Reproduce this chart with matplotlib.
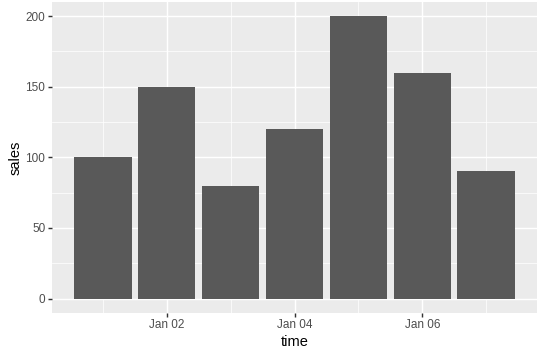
import matplotlib
matplotlib.use("Agg")
import matplotlib.pyplot as plt
import matplotlib.dates as mdates
import numpy as np
import pandas as pd

dates = pd.to_datetime(["2020-01-01", "2020-01-02", "2020-01-03", "2020-01-04",
                        "2020-01-05", "2020-01-06", "2020-01-07"])
sales = [100, 150, 80, 120, 200, 160, 90]
major_dates = pd.to_datetime(["2020-01-02", "2020-01-04", "2020-01-06"])
minor_dates = pd.to_datetime(["2020-01-01", "2020-01-03", "2020-01-05", "2020-01-07"])
major_labels = ["Jan 02", "Jan 04", "Jan 06"]
y_major = [0, 50, 100, 150, 200]
y_minor = [25, 75, 125, 175]

plt.rcParams['font.family'] = ['Liberation Sans', 'DejaVu Sans']

W, H = 542, 358
dpi = 96
fig = plt.figure(figsize=(W / dpi, H / dpi), dpi=dpi)
left, right, top, bottom = 52, 537, 2, 312.7
ax = fig.add_axes([left / W, (H - bottom) / H, (right - left) / W, (bottom - top) / H])
ax.set_facecolor("#EBEBEB")

xnum = mdates.date2num(dates)
ax.bar(xnum, sales, width=0.9, color="#595959", zorder=3)

xmin = xnum[0] - 0.45 - 0.05 * 6.9
xmax = xnum[-1] + 0.45 + 0.05 * 6.9
ax.set_xlim(xmin, xmax)
ax.set_ylim(-10, 210)

for v in mdates.date2num(minor_dates):
    ax.axvline(v, color="white", lw=0.53, zorder=1)
for v in mdates.date2num(major_dates):
    ax.axvline(v, color="white", lw=1.07, zorder=1)
for v in y_minor:
    ax.axhline(v, color="white", lw=0.53, zorder=1)
for v in y_major:
    ax.axhline(v, color="white", lw=1.07, zorder=1)

ax.set_xticks(mdates.date2num(major_dates))
ax.set_xticklabels(major_labels)
ax.set_yticks(y_major)
ax.set_yticklabels([str(v) for v in y_major])
ax.tick_params(axis="both", length=2.75, width=1.07, color="#333333",
               labelcolor="#4D4D4D", labelsize=8.8, pad=2.2)
for s in ax.spines.values():
    s.set_visible(False)

ax.set_xlabel("time", fontsize=11, color="black", labelpad=2.5)
ax.set_ylabel("sales", fontsize=11, color="black", labelpad=2.5)

fig.savefig("out.png", dpi=dpi, facecolor="white")
